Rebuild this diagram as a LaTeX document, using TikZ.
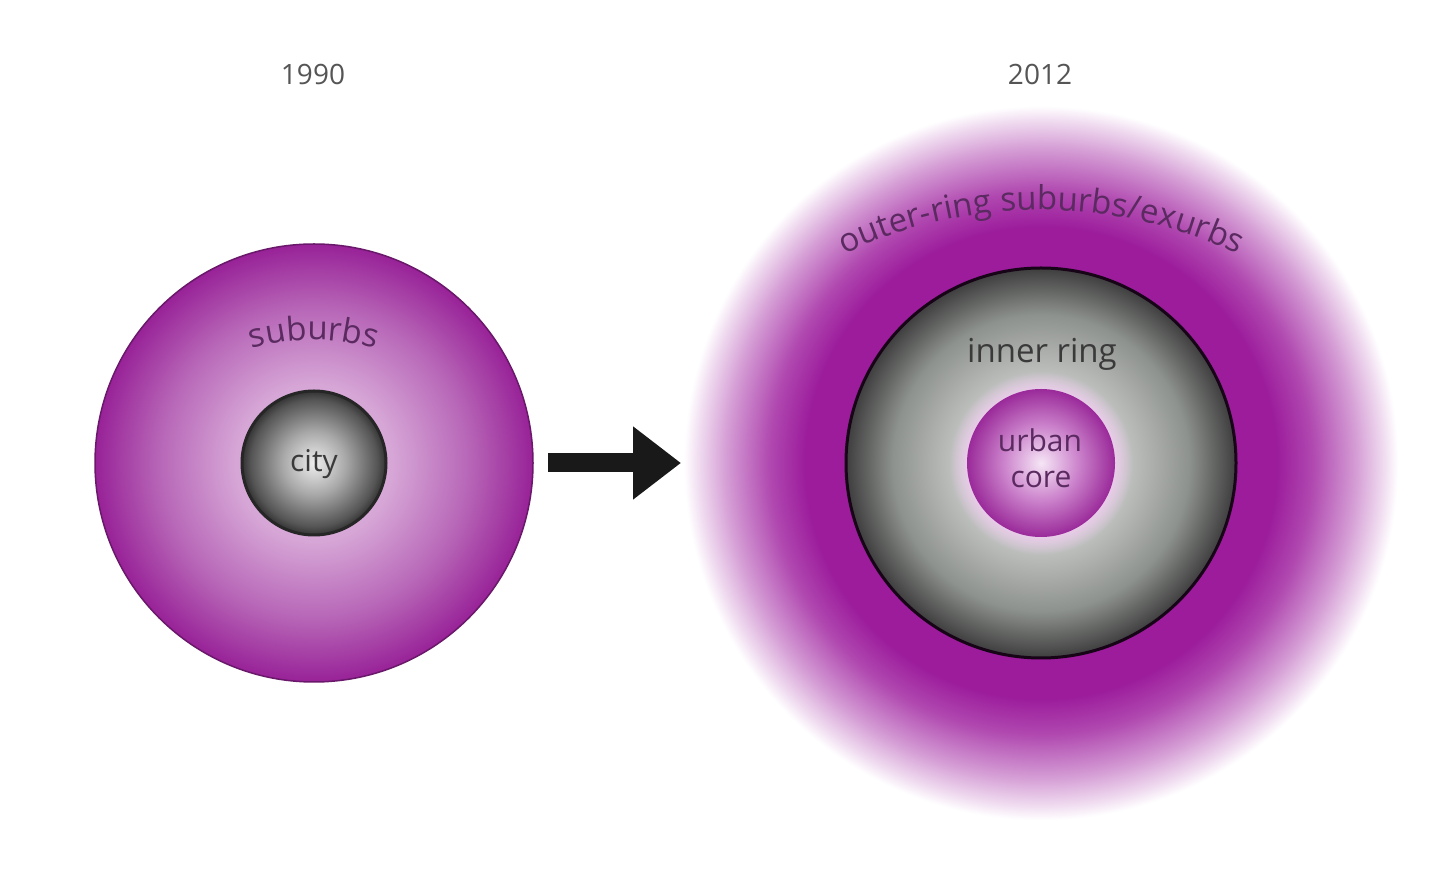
\documentclass[tikz,border=0pt]{standalone}
\usepackage{fontspec}
\setmainfont{Open Sans}
\usetikzlibrary{decorations.text,arrows.meta,fadings}

\definecolor{purpEdge}{HTML}{982298}
\definecolor{purpMid}{HTML}{B868B8}
\definecolor{purpLight}{HTML}{D6A6D6}
\definecolor{purpCenter}{HTML}{E2BCE2}
\definecolor{purpSolid}{HTML}{9C1C9C}
\definecolor{purpFadeA}{HTML}{B048B0}
\definecolor{purpFadeB}{HTML}{D49CD4}
\definecolor{purpFadeC}{HTML}{F0DCF0}
\definecolor{grayC}{HTML}{EEEEEE}
\definecolor{grayB}{HTML}{A8A8A8}
\definecolor{grayA}{HTML}{555555}
\definecolor{grayE}{HTML}{333333}
\definecolor{ringC}{HTML}{E2E2E2}
\definecolor{ringB}{HTML}{C6C8C6}
\definecolor{ringA}{HTML}{8E928E}
\definecolor{ringE}{HTML}{3E3E3E}
\definecolor{coreC}{HTML}{F6E6F6}
\definecolor{coreB}{HTML}{CC84CC}
\definecolor{coreE}{HTML}{9A2A9A}
\definecolor{txtPurple}{HTML}{5A2A60}
\definecolor{txtGray}{HTML}{3A3A3A}
\definecolor{yearGray}{HTML}{555555}
\definecolor{haloPink}{HTML}{ECCCEC}

% the path's radius corresponds to 25bp
\pgfdeclareradialshading{suburbshade}{\pgfpointorigin}{%
  color(0bp)=(purpCenter); color(9bp)=(purpLight); color(17.5bp)=(purpMid); color(25bp)=(purpEdge); color(50bp)=(purpEdge)}
\pgfdeclareradialshading{cityshade}{\pgfpointorigin}{%
  color(0bp)=(grayC); color(11bp)=(grayB); color(22bp)=(grayA); color(25bp)=(grayE); color(50bp)=(grayE)}
\pgfdeclareradialshading{fuzzshade}{\pgfpointorigin}{%
  color(0bp)=(purpSolid); color(16.5bp)=(purpSolid); color(19bp)=(purpFadeA); color(22bp)=(purpFadeB); color(24bp)=(purpFadeC); color(25bp)=(white); color(50bp)=(white)}
\pgfdeclareradialshading{ringshade}{\pgfpointorigin}{%
  color(0bp)=(ringC); color(10bp)=(ringB); color(19bp)=(ringA); color(25bp)=(ringE); color(50bp)=(ringE)}
\pgfdeclareradialshading{coreshade}{\pgfpointorigin}{%
  color(0bp)=(coreC); color(12.5bp)=(coreB); color(25bp)=(coreE); color(50bp)=(coreE)}

\newcommand\lblfont{\fontsize{30}{36}\selectfont}
\newcommand\arcfont{\fontsize{33}{38}\selectfont}
\newcommand\yearfont{\fontsize{28}{34}\selectfont}

\begin{document}
\begin{tikzpicture}[x=1pt,y=1pt,
  disc/.style={circle,inner sep=0pt,outer sep=0pt},
  lbl/.style={font=\lblfont,anchor=base,inner sep=0pt},
  year/.style={font=\yearfont,text=yearGray,anchor=base,inner sep=0pt},
  arclbl/.style={decorate,decoration={text along path,text align=center,
      text={|\arcfont|#1}}},
]
\useasboundingbox (0,0) rectangle (1440,886);
\fill[white] (0,0) rectangle (1440,886);

% years
\node[year] (y1) at (313,801) {1990};
\node[year] (y2) at (1040,801) {2012};

% left: 1990
\node[disc,minimum size=438pt,shading=suburbshade,draw=purpEdge!70!black,line width=1.5pt] (sub) at (314,423) {};
\node[disc,minimum size=144pt,shading=cityshade,draw=black!85,line width=3pt] (city) at (314,423) {};
\node[lbl,text=txtGray] (citylbl) at (314,414) {city};
\path[arclbl=suburbs,decoration={text color=txtPurple}] ([shift={(117:216)}]314,330) arc[start angle=117,end angle=63,radius=216];

% arrow
\coordinate (a1) at (548,423);
\coordinate (a2) at (681,423);
\draw[line width=19pt,draw=black!90,-{Triangle[length=48pt,width=70pt]}] (a1) -- (a2);

% right: 2012
\node[disc,minimum size=714pt,shading=fuzzshade] (outer) at (1041,423) {};
\node[disc,minimum size=390pt,shading=ringshade,draw=black!85!purpSolid,line width=3pt] (ring) at (1041,423) {};
\fill[haloPink,path fading=circle with fuzzy edge 20 percent,opacity=0.9] (1041,423) circle (92);
\node[disc,minimum size=148pt,shading=coreshade] (core) at (1041,423) {};

\path[arclbl=outer-ring suburbs/exurbs,decoration={text color=txtPurple}] ([shift={(132:460)}]1041,216) arc[start angle=132,end angle=48,radius=460];
\node[lbl,text=txtGray,font=\fontsize{33}{38}\selectfont] (ringlbl) at (1042,523) {inner ring};
\node[lbl,text=txtPurple] (urbanlbl) at (1040,434) {urban};
\node[lbl,text=txtPurple] (corelbl) at (1041,398) {core};
\end{tikzpicture}
\end{document}
